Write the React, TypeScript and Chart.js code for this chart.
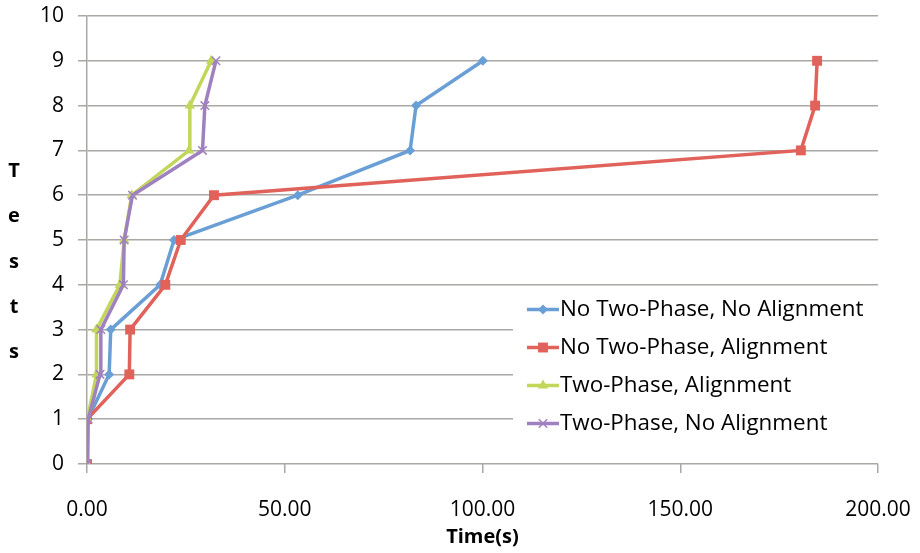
import React, { useEffect, useRef } from 'react';
import { Chart, registerables } from 'chart.js';
Chart.register(...registerables);

const tests = [0, 1, 2, 3, 4, 5, 6, 7, 8, 9];
const seriesNames = [
  'No Two-Phase, No Alignment',
  'No Two-Phase, Alignment',
  'Two-Phase, Alignment',
  'Two-Phase, No Alignment',
];
const noTwoPhaseNoAlign = [0, 0.2, 5.6, 6.0, 18.5, 22.0, 53.3, 81.7, 83.2, 100.1];
const noTwoPhaseAlign = [0, 0, 10.7, 10.9, 19.8, 23.7, 32.1, 180.5, 184.1, 184.6];
const twoPhaseAlign = [0, 0.1, 2.4, 2.4, 8.3, 9.4, 11.3, 25.8, 26.0, 31.4];
const twoPhaseNoAlign = [0, 0.3, 3.3, 3.5, 9.2, 9.4, 11.5, 29.2, 29.8, 32.6];
const xTickValues = [0, 50, 100, 150, 200];
const yTitle = 'Tests';
const xTitle = 'Time(s)';

const colors = ['#6a9fd6', '#e0625a', '#c2d65a', '#a081c0'];
const pointStyles = ['rectRot', 'rect', 'triangle', 'crossRot'];
const pointRadii = [5, 7, 6, 6];
const FONT = "'Open Sans', sans-serif";

function drawMarker(ctx: CanvasRenderingContext2D, style: string, x: number, y: number, r: number, color: string) {
  ctx.save();
  ctx.fillStyle = color;
  ctx.strokeStyle = color;
  ctx.beginPath();
  if (style === 'rectRot') {
    ctx.moveTo(x - r, y); ctx.lineTo(x, y - r); ctx.lineTo(x + r, y); ctx.lineTo(x, y + r); ctx.closePath(); ctx.fill();
  } else if (style === 'rect') {
    const s = r * Math.SQRT1_2;
    ctx.rect(x - s, y - s, 2 * s, 2 * s); ctx.fill();
  } else if (style === 'triangle') {
    ctx.moveTo(x, y - r);
    ctx.lineTo(x + r * Math.sin(2 * Math.PI / 3), y - r * Math.cos(2 * Math.PI / 3));
    ctx.lineTo(x + r * Math.sin(4 * Math.PI / 3), y - r * Math.cos(4 * Math.PI / 3));
    ctx.closePath(); ctx.fill();
  } else {
    const s = r * Math.SQRT1_2;
    ctx.lineWidth = 1.5;
    ctx.moveTo(x - s, y - s); ctx.lineTo(x + s, y + s);
    ctx.moveTo(x - s, y + s); ctx.lineTo(x + s, y - s);
    ctx.stroke();
  }
  ctx.restore();
}

const overlayPlugin = {
  id: 'overlay',
  afterDraw(chart: any) {
    const ctx = chart.ctx as CanvasRenderingContext2D;
    const ca = chart.chartArea;
    // Y title, stacked letters
    ctx.save();
    ctx.font = `bold 20px ${FONT}`;
    ctx.fillStyle = '#000';
    ctx.textAlign = 'center';
    ctx.textBaseline = 'middle';
    const letters = yTitle.split('');
    const cy = (ca.top + ca.bottom) / 2 + 22;
    letters.forEach((ch, i) => {
      ctx.fillText(ch, 14, cy + (i - (letters.length - 1) / 2) * 45.3);
    });
    ctx.restore();

    // Legend inside chart area
    ctx.save();
    const bx = ca.left + 426;
    const by = 292;
    ctx.fillStyle = '#ffffff';
    ctx.fillRect(bx, by, chart.width - bx, 163);
    ctx.font = `22.4px ${FONT}`;
    ctx.textAlign = 'left';
    ctx.textBaseline = 'middle';
    seriesNames.forEach((name, i) => {
      const y = 309.5 + i * 38;
      const x0 = bx + 14;
      ctx.strokeStyle = colors[i];
      ctx.lineWidth = 3.5;
      ctx.beginPath();
      ctx.moveTo(x0, y);
      ctx.lineTo(x0 + 32, y);
      ctx.stroke();
      drawMarker(ctx, pointStyles[i], x0 + 16, y, pointRadii[i], colors[i]);
      ctx.fillStyle = '#000';
      ctx.fillText(name, x0 + 33, y);
    });
    ctx.restore();
  },
};

export default function App() {
  const ref = useRef<HTMLCanvasElement>(null);
  useEffect(() => {
    document.body.style.margin = '0';
    const seriesData = [noTwoPhaseNoAlign, noTwoPhaseAlign, twoPhaseAlign, twoPhaseNoAlign];
    const chart = new Chart(ref.current!, {
      type: 'scatter',
      data: {
        datasets: seriesData.map((vals, i) => ({
          label: seriesNames[i],
          data: vals.map((v, j) => ({ x: v, y: tests[j] })),
          showLine: true,
          borderColor: colors[i],
          backgroundColor: colors[i],
          borderWidth: 3.5,
          pointStyle: pointStyles[i] as any,
          pointRadius: pointRadii[i],
          pointBorderWidth: pointStyles[i] === 'crossRot' ? 1.5 : 0,
          pointBorderColor: colors[i],
          pointBackgroundColor: colors[i],
          order: 4 - i,
          tension: 0,
        })),
      },
      options: {
        animation: false,
        responsive: true,
        maintainAspectRatio: false,
        layout: { padding: { top: 16, right: 42, left: 0, bottom: 0 } },
        plugins: { legend: { display: false }, tooltip: { enabled: false } },
        scales: {
          x: {
            type: 'linear',
            min: 0,
            max: 200,
            afterBuildTicks: (scale: any) => {
              scale.ticks = xTickValues.map((v) => ({ value: v }));
            },
            afterFit: (scale: any) => {
              scale.height = 89;
              scale.paddingLeft = 0;
              scale.paddingRight = 0;
            },
            ticks: {
              callback: (v: any) => Number(v).toFixed(2),
              font: { family: FONT, size: 21 },
              color: '#000',
              padding: 24,
              maxRotation: 0,
            },
            grid: { drawOnChartArea: false, drawTicks: true, tickLength: 9, color: '#aaa7a4', lineWidth: 1.5 },
            border: { display: false },
            title: {
              display: true,
              text: xTitle,
              font: { family: FONT, size: 20, weight: 'bold' },
              color: '#000',
              padding: { top: 0, bottom: 4 },
            },
          },
          y: {
            type: 'linear',
            min: 0,
            max: 10,
            ticks: { stepSize: 1, font: { family: FONT, size: 21 }, color: '#000', padding: 14 },
            afterFit: (scale: any) => {
              scale.width = 87;
              scale.paddingTop = 0;
              scale.paddingBottom = 0;
            },
            grid: { color: '#aaa7a4', lineWidth: 1.5, tickLength: 9 },
            border: { display: true, color: '#aaa7a4', width: 1.5 },
          },
        },
      },
      plugins: [overlayPlugin],
    });
    return () => chart.destroy();
  }, []);
  return (
    <div style={{ width: 920, height: 553, position: 'relative' }}>
      <canvas ref={ref} />
    </div>
  );
}
